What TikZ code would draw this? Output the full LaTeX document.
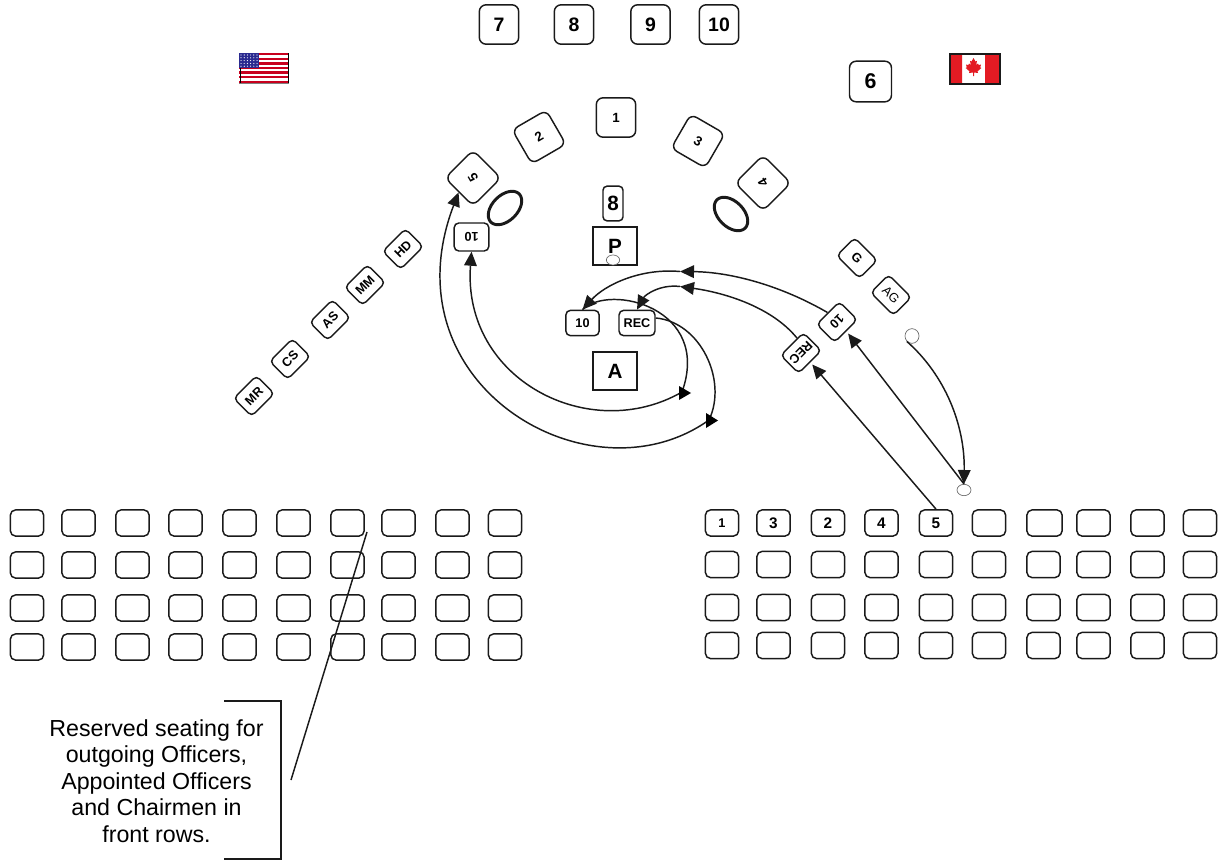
\documentclass[tikz,border=0pt]{standalone}
\usepackage{fontspec}
\setmainfont{Liberation Sans}
\usetikzlibrary{arrows.meta,shapes.geometric}
\definecolor{ink}{HTML}{1A1A1A}
\definecolor{usred}{HTML}{C8001E}
\definecolor{usblue}{HTML}{2A2A90}
\definecolor{cared}{HTML}{E31B23}
\tikzset{
  box/.style={draw=ink,line width=1.1pt,rounded corners=5pt,fill=white,inner sep=0pt,font=\bfseries},
  seat/.style={box,rounded corners=4pt,minimum width=25pt,minimum height=19.7pt},
  seatnum/.style={seat,font=\fontsize{11.5}{13}\selectfont\bfseries},
  big/.style={box,minimum width=29.5pt,minimum height=29.5pt,font=\fontsize{14.6}{16}\selectfont\bfseries},
  arc/.style={box,minimum width=29.5pt,minimum height=29.5pt,font=\fontsize{10}{11}\selectfont\bfseries},
  tag/.style={box,rounded corners=3.5pt,minimum width=24pt,minimum height=19pt,font=\fontsize{9.5}{11}\selectfont\bfseries},
  slant/.style={box,rounded corners=3.5pt,minimum width=24pt,minimum height=19pt,font=\fontsize{9.5}{11}\selectfont\bfseries},
  lect/.style={draw=ink,line width=1.6pt,fill=white,minimum width=32.5pt,minimum height=28pt,inner sep=0pt,font=\fontsize{15.5}{17}\selectfont\bfseries},
  ring/.style={ellipse,draw=ink,line width=2.2pt,minimum width=30pt,minimum height=19pt,inner sep=0pt},
  dot/.style={ellipse,draw=ink!65,line width=.5pt,fill=white,inner sep=0pt},
  conn/.style={draw=ink,line width=1.1pt},
  tip/.style={conn,-{Triangle[length=10.5pt,width=9.5pt]}},
  rtip/.style={conn,{Triangle[length=10.5pt,width=9.5pt]}-}
}
\begin{document}
\begin{tikzpicture}[x=.75pt,y=-.75pt]
\useasboundingbox (0,0) rectangle (1220,860);
% seating blocks
\foreach \y/\r in {523/1,565/2,608/3,647/4}{
  \foreach \x/\c in {27/1,78.5/2,132.5/3,185.5/4,239.5/5,293.5/6,347.5/7,398.5/8,452.5/9,505/10}{
    \node[seat] (L\r-\c) at (\x,\y) {};
  }
}
\foreach \y/\r in {564.5/2,607.5/3,645.5/4}{
  \foreach \x/\c in {722/1,773.5/2,828/3,881.5/4,936/5,989/6,1043.5/7,1093.5/8,1147.5/9,1200/10}{
    \node[seat] (R\r-\c) at (\x,\y) {};
  }
}
\node[seat,font=\fontsize{9.5}{11}\selectfont\bfseries] (R1-1) at (722,523) {1};
\node[seatnum] (R1-2) at (773.5,523) {3};
\node[seatnum] (R1-3) at (828,523) {2};
\node[seatnum] (R1-4) at (881.5,523) {4};
\node[seatnum] (Rfive) at (936,523) {5};
\node[seat] (R1-6) at (989,523) {};
\node[seat,minimum width=26.5pt] (R1-7) at (1044.5,523) {};
\node[seat] (R1-8) at (1093.5,523) {};
\node[seat] (R1-9) at (1147.5,523) {};
\node[seat] (R1-10) at (1200,523) {};
% top row
\node[big] (t7) at (499,24.5) {7};
\node[big] (t8) at (574,24.5) {8};
\node[big] (t9) at (650.5,24.5) {9};
\node[big] (t10) at (719,24.5) {10};
\node[big,font=\fontsize{16}{18}\selectfont\bfseries,minimum width=31.5pt,minimum height=30.5pt] (t6) at (870.5,81.5) {6};
% arc of seats
\node[arc] (a1) at (616,117.5) {1};
\node[arc,rotate=30] (a2) at (539,137) {2};
\node[arc,rotate=-30] (a3) at (698,141) {3};
\node[arc,rotate=-45] (a4) at (763,183) {\rotatebox{165}{4}};
\node[arc,rotate=135] (a5) at (473,178) {\rotatebox{-15}{5}};
\node[ring,rotate=45] (r1) at (505,208) {};
\node[ring,rotate=-45] (r2) at (731,214) {};
\node[tag,minimum width=26pt,minimum height=21pt,rotate=180] (ltn) at (471.5,237) {10};
% lectern
\node[box,rounded corners=3pt,minimum width=15pt,minimum height=26pt,font=\fontsize{15.5}{17}\selectfont\bfseries] (lec) at (613,203.5) {8};
\node[lect] (P) at (615,246) {P};
\node[dot,minimum width=10pt,minimum height=7.5pt] (pd) at (613,260) {};
\node[lect] (A) at (615,371) {A};
\node[tag,minimum width=25pt] (ten) at (582.5,323) {10};
\node[tag,minimum width=27pt] (rec) at (637,323) {REC};
% left diagonal
\node[slant,rotate=45] (HD) at (403,249) {HD};
\node[slant,rotate=45] (MM) at (365,285) {MM};
\node[slant,rotate=45] (AS) at (330,320) {AS};
\node[slant,rotate=45] (CS) at (290,359) {CS};
\node[slant,rotate=45] (MR) at (254,396) {MR};
% right diagonal
\node[slant,rotate=-45] (G) at (857,258) {G};
\node[slant,rotate=-45,font=\fontsize{9.5}{11}\selectfont] (AG) at (891,295) {AG};
\node[slant,rotate=-135] (rten) at (837,322) {10};
\node[slant,rotate=-135] (rrec) at (801,353) {REC};
\node[dot,minimum width=10.5pt,minimum height=11pt] (dA) at (912,336) {};
\node[dot,minimum width=10.5pt,minimum height=8.5pt] (dB) at (964,490) {};
% free ends
\coordinate (j1) at (680,271.5);
\coordinate (j2) at (680,286.5);
\coordinate (joinA) at (682,392);
\coordinate (joinB) at (709,420);
\coordinate (calloutTop) at (367,532);
\coordinate (calloutEnd) at (291,780);
% connectors
\draw[tip,shorten >=2pt] (Rfive.north) -- (rrec.north);
\draw[tip,shorten >=2pt] (dB.north) -- (rten.north);
\draw[tip] (dA.south west) .. controls (945,375) and (965,425) .. (dB.north);
\draw[tip] (rten.south) .. controls (780,285) and (730,272) .. (j1);
\draw[tip] (rrec.240) .. controls (770,305) and (720,292) .. (j2);
\draw[tip] (j1) .. controls (640,268) and (605,285) .. (ten.north);
\draw[tip] (j2) .. controls (660,284) and (645,295) .. (rec.north);
\draw[conn] (ten.north) .. controls (610,283) and (712,308) .. (joinA);
\draw[conn] (rec.15) .. controls (700,322) and (728,380) .. (joinB);
\draw[rtip] (ltn.north) .. controls (462,380) and (590,445) .. (joinA);
\draw[rtip] (a5.north) .. controls (385,385) and (590,505) .. (joinB);
\fill[black] (679,386) -- (691,393) -- (679,400) -- cycle;
\fill[black] (706,413) -- (718,420.5) -- (706,428) -- cycle;
% callout
\draw[conn] (calloutTop) -- (calloutEnd);
\draw[draw=ink,line width=.9pt] (224,701) -- (281,701) -- (281,859) -- (224,859);
\node[align=center,inner sep=0pt,font=\fontsize{17.4}{19.9}\selectfont] (note) at (156.5,781) {Reserved seating for\\outgoing Officers,\\Appointed Officers\\and Chairmen in\\front rows.};
% US flag
\fill[white] (239,53) rectangle (289,83);
\foreach \i in {0,2,4,6,8,10,12}{
  \fill[usred] (239,{53+\i*30/13}) rectangle (289,{53+(\i+1)*30/13});
}
\fill[usblue] (239,53) rectangle (259,68);
\foreach \i in {0,...,5}{\foreach \j in {0,...,4}{
  \fill[white] ({241+\i*3.2},{55+\j*2.8}) circle (.45pt);
}}
\draw[black,line width=.6pt] (240,68) -- (240,83) (288.5,53) -- (288.5,83);
\draw[gray,line width=.6pt] (239,83) -- (289,83);
% Canadian flag
\fill[white] (950,54) rectangle (1000,84);
\fill[cared] (950,54) rectangle (962,84) (985,54) rectangle (1000,84);
\fill[cared] (973.5,58) -- (975.5,61.5) -- (977,60.8) -- (976.2,65) -- (978,63.5) -- (978.6,65) -- (981,64.6) -- (980.2,67.4) -- (981.3,68) -- (977.5,71.4) -- (978,73) -- (974,72.5) -- (974,76) -- (973,76) -- (973,72.5) -- (969,73) -- (969.5,71.4) -- (965.7,68) -- (966.8,67.4) -- (966,64.6) -- (968.4,65) -- (969,63.5) -- (970.8,65) -- (970,60.8) -- (971.5,61.5) -- cycle;
\draw[ink,line width=.9pt] (950,54) rectangle (1000,84);
\end{tikzpicture}
\end{document}
